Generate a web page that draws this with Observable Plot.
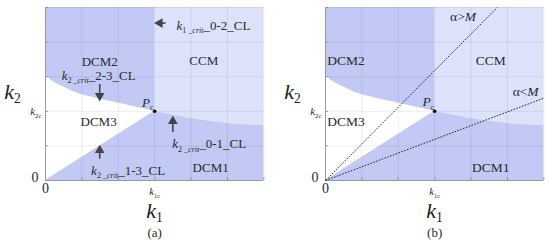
<!DOCTYPE html>
<html><head><meta charset="utf-8">
<script src="https://cdn.jsdelivr.net/npm/d3@7"></script>
<script src="https://cdn.jsdelivr.net/npm/@observablehq/plot@0.6"></script>
<style>
body{margin:0;background:#fff}
#wrap{display:flex;width:550px;height:245px}
#wrap svg, #wrap svg text{font-family:'Liberation Serif',serif}
</style>
</head><body><div id="wrap"></div>
<script>
// critical point
const k1c = 3, k2c = 2;
// grid ticks
const gridK1 = [0, 1, 2, 3, 4, 5, 6];
const gridK2 = [0, 1, 2, 3, 4, 5];
// boundary curve k2_crit (2-3 left of k1c, 0-1 right of k1c)
const curveK1 = [0, 0.05, 0.15, 0.3, 0.5, 0.75, 1, 1.5, 2, 2.5, 3, 3.5, 4, 4.5, 5, 5.5, 6];
const curveK2 = [3.13, 3.0, 2.9, 2.8, 2.7, 2.57, 2.48, 2.35, 2.24, 2.12, 2.0, 1.89, 1.79, 1.71, 1.65, 1.61, 1.59];

// panel (a) labels
const labelsAText = ["DCM2", "i:k|s:2|si: _crit|n:_2-3_CL", "CCM", "DCM3", "i:P|s:c",
  "i:k|s:1|si: _crit|n:_0-2_CL", "i:k|s:2|si: _crit|n:_0-1_CL", "i:k|s:2|si: _crit|n:_1-3_CL", "DCM1"];
const labelsAK1 = [1.49, 1.46, 4.35, 1.46, 2.81, 3.6, 4.5, 2.27, 4.54];
const labelsAK2 = [3.44, 3.03, 3.47, 1.7, 2.25, 4.48, 1.06, 0.29, 0.38];
const labelsAAnchor = ["middle", "middle", "middle", "middle", "middle", "start", "middle", "middle", "middle"];

// panel (a) arrows
const arrowTailK1 = [3.3, 1.49, 3.5, 1.49];
const arrowTailK2 = [4.55, 2.79, 1.40, 0.63];
const arrowTipK1 = [3.03, 1.49, 3.5, 1.49];
const arrowTipK2 = [4.55, 2.33, 1.83, 0.99];

// panel (b) labels
const labelsBText = ["DCM2", "CCM", "DCM3", "DCM1", "i:P|s:c", "n:α>|i:M", "n:α<|i:M"];
const labelsBK1 = [0.05, 4.54, 0.05, 4.54, 2.83, 3.78, 5.5];
const labelsBK2 = [3.47, 3.47, 1.7, 0.38, 2.28, 4.74, 2.57];
const labelsBAnchor = ["start", "middle", "start", "middle", "middle", "middle", "middle"];

// panel (b) operating lines from the origin
const alphaEndK1 = [4.72, 6];
const alphaEndK2 = [5, 2.38];

const DARK = "#c2c9f5", LIGHT = "#dde2fb", INK = "#2a2a2a";
const FONT = "'Liberation Serif', serif";

const curve = curveK1.map((k1, i) => ({k1, k2: curveK2[i]}));
const dcm1Top = [{k1: 0, k2: 0}, ...curve.filter(d => d.k1 >= k1c)];

function txt(data, opts) {
  return Plot.text(data, {fontFamily: FONT, fill: INK, ...opts});
}

function makePanel(label, mLeft, mRight, extra) {
  const left = curve.filter(d => d.k1 <= k1c);
  const right = curve.filter(d => d.k1 >= k1c);
  return Plot.plot({
    width: 275, height: 245,
    marginTop: 7, marginBottom: 65, marginLeft: mLeft, marginRight: mRight,
    x: {domain: [0, 6], axis: null},
    y: {domain: [0, 5], axis: null},
    style: "font-family: " + FONT + "; color: #333; overflow: visible; background: transparent;",
    marks: [
      Plot.areaY(left, {x: "k1", y1: "k2", y2: 5, fill: DARK}),
      Plot.areaY(right, {x: "k1", y1: "k2", y2: 5, fill: LIGHT}),
      Plot.areaY(dcm1Top, {x: "k1", y1: 0, y2: "k2", fill: DARK}),
      Plot.ruleX(gridK1, {x: d => d, stroke: "#000", strokeOpacity: 0.07}),
      Plot.ruleY(gridK2, {y: d => d, stroke: "#000", strokeOpacity: 0.07}),
      Plot.ruleX([0], {stroke: "#999"}),
      Plot.ruleY([0], {stroke: "#999"}),
      Plot.ruleX(gridK1, {x: d => d, y1: 0, y2: 0, insetTop: -3, stroke: "#999"}),
      Plot.ruleY(gridK2, {y: d => d, x1: 0, x2: 0, insetRight: -3, stroke: "#999"}),
      ...extra,
      Plot.dot([{k1: k1c, k2: k2c}], {x: "k1", y: "k2", r: 1.8, fill: "#000"}),
      // tick labels
      txt([0], {x: d => d, frameAnchor: "bottom", lineAnchor: "middle", dy: 8, fontSize: 14}),
      txt([k1c], {x: d => d, frameAnchor: "bottom", lineAnchor: "middle", dy: 11, fontSize: 10.5, text: () => "i:k|s:1c"}),
      txt([0], {y: d => d, frameAnchor: "left", dx: -7, dy: -3, textAnchor: "end", fontSize: 14}),
      txt([k2c], {y: d => d, frameAnchor: "left", dx: -4, textAnchor: "end", fontSize: 11, text: () => "i:k|s:2c"}),
      // axis labels
      txt([k1c], {x: d => d, frameAnchor: "bottom", lineAnchor: "middle", dy: 30, fontSize: 22, text: () => "i:k|s:1", fill: "#1e1e1e"}),
      txt([2.55], {y: d => d, frameAnchor: "left", textAnchor: "middle", dx: -33, fontSize: 22, text: () => "i:k|s:2", fill: "#1e1e1e"}),
      txt([k1c], {x: d => d, frameAnchor: "bottom", lineAnchor: "middle", dy: 52, fontSize: 13, text: () => label})
    ]
  });
}

function labelMarks(texts, k1s, k2s, anchors, size) {
  const data = texts.map((t, i) => ({t, k1: k1s[i], k2: k2s[i], a: anchors[i]}));
  return ["middle", "start"].map(a => txt(data.filter(d => d.a === a), {
    x: "k1", y: "k2", text: "t", textAnchor: a, fontSize: size
  }));
}

// panel (a) extras
const arrows = arrowTailK1.map((_, i) => {
  const x1 = arrowTailK1[i], y1 = arrowTailK2[i], x2 = arrowTipK1[i], y2 = arrowTipK2[i];
  const dxs = (x2 - x1) * 36.3, dys = -(y2 - y1) * 34.6;
  const len = Math.hypot(dxs, dys);
  const back = 4 / len;
  return {x1, y1, x2, y2, hx: x2 - (x2 - x1) * back, hy: y2 - (y2 - y1) * back,
    rot: Math.atan2(dxs, -dys) * 180 / Math.PI};
});
const extraA = [
  Plot.link(arrows, {x1: "x1", y1: "y1", x2: "hx", y2: "hy", stroke: "#444", strokeWidth: 1.6}),
  Plot.dot(arrows, {x: "hx", y: "hy", symbol: "triangle2", r: 4.6, fill: "#444", rotate: "rot"}),
  ...labelMarks(labelsAText, labelsAK1, labelsAK2, labelsAAnchor, 13)
];
const lines = alphaEndK1.map((k1, i) => ({x1: 0, y1: 0, x2: k1, y2: alphaEndK2[i]}));
const extraB = [
  Plot.link(lines, {x1: "x1", y1: "y1", x2: "x2", y2: "y2", stroke: "#222", strokeWidth: 1, strokeDasharray: "1.6,1.4"}),
  ...labelMarks(labelsBText, labelsBK1, labelsBK2, labelsBAnchor, 13.5)
];

const wrap = document.getElementById("wrap");
wrap.append(makePanel("(a)", 45, 11.7, extraA));
wrap.append(makePanel("(b)", 50, 6.7, extraB));

// rich text: segments "style:text" separated by "|"
const NS = "http://www.w3.org/2000/svg";
d3.selectAll("#wrap svg text").each(function() {
  const s = this.textContent;
  if (!/^(i|s|si|n):/.test(s)) return;
  const base = parseFloat(getComputedStyle(this).fontSize) || 12;
  this.textContent = "";
  let shift = 0;
  const drop = base > 18 ? 0.18 : 0.28;
  for (const seg of s.split("|")) {
    const idx = seg.indexOf(":");
    const k = seg.slice(0, idx), str = seg.slice(idx + 1);
    const sub = k.includes("s"), it = k.includes("i");
    const target = sub ? base * drop : 0;
    const ts = document.createElementNS(NS, "tspan");
    ts.setAttribute("dy", (target - shift).toFixed(2));
    shift = target;
    if (sub) ts.setAttribute("font-size", (base * 0.62).toFixed(2));
    if (it) ts.setAttribute("font-style", "italic");
    ts.textContent = str;
    this.appendChild(ts);
  }
});
</script>
</body></html>
